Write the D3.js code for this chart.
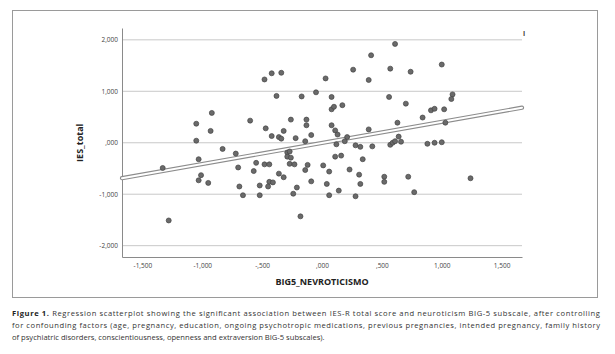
<!DOCTYPE html>
<html>
<head>
<meta charset="utf-8">
<script src="https://cdn.jsdelivr.net/npm/d3@7"></script>
<style>
    body { margin: 0; background: #fff; }
    text { font-family: "Open Sans", "DejaVu Sans", sans-serif; }
</style>
</head>
<body>
<div id="chart-area"></div>
<script>
// BIG5_NEVROTICISMO (x) and IES_total (y)
const neuroticism = [
    -1.05, -0.92, -0.93, -0.60, -1.05, -0.83, -1.33, -1.03, -1.01, -1.03,
    -0.95, -0.72, -0.70, -0.69, -0.66, -0.57, -0.55, -0.52, -0.52, -1.28,
    -0.48, -0.42, -0.34, -0.38, -0.17, -0.05, 0.03, 0.08, 0.08, 0.10,
    0.17, 0.26, 0.39, 0.41, 0.61, 0.57, 0.56, 0.74, 1.00, 0.70,
    0.84, 0.91, 0.94, 1.02, 1.03, -0.26, -0.47, -0.42, -0.36, -0.34,
    -0.32, -0.22, -0.13, -0.13, -0.14, -0.09, 0.08, 0.11, 0.13, 0.21,
    0.19, 0.12, 0.28, 0.32, 0.42, 0.39, 0.63, 0.57, 0.59, 0.61,
    0.64, 0.66, 0.88, 0.94, 1.00, 1.09, 1.08, -0.29, -0.27, -0.29,
    -0.26, -0.48, -0.44, -0.27, -0.23, -0.12, -0.14, 0.01, 0.06, 0.11,
    0.16, 0.23, 0.34, 0.31, 0.32, -0.36, -0.32, -0.44, -0.41, -0.45,
    -0.21, -0.09, -0.24, 0.04, 0.14, 0.06, 0.28, 0.52, 0.52, 0.72,
    0.77, -0.18, 1.24
];
const iesTotal = [
    0.37, 0.58, 0.23, 0.43, 0.04, -0.12, -0.49, -0.32, -0.63, -0.73,
    -0.78, -0.21, -0.48, -0.85, -1.02, -0.55, -0.39, -0.83, -1.02, -1.51,
    1.23, 1.35, 1.36, 0.91, 0.90, 0.98, 1.25, 0.89, 0.65, 0.70,
    0.73, 1.42, 1.22, 1.70, 1.92, 1.44, 0.89, 1.38, 1.52, 0.76,
    0.49, 0.63, 0.66, 0.65, 0.39, 0.45, 0.28, 0.13, 0.11, 0.08,
    0.23, 0.09, 0.45, 0.34, 0.03, 0.15, 0.34, 0.24, 0.16, 0.11,
    0.03, -0.03, -0.05, -0.08, -0.07, 0.26, 0.39, -0.04, 0.00, 0.03,
    0.12, 0.02, -0.02, 0.00, 0.01, 0.94, 0.85, -0.19, -0.17, -0.27,
    -0.29, -0.42, -0.42, -0.41, -0.42, -0.43, -0.53, -0.44, -0.56, -0.27,
    -0.25, -0.52, -0.32, -0.62, -0.80, -0.60, -0.67, -0.76, -0.77, -0.85,
    -0.87, -0.75, -0.99, -0.80, -0.93, -1.02, -1.04, -0.66, -0.76, -0.66,
    -0.96, -1.43, -0.69
];
// linear fit line
const fitIntercept = -0.003;
const fitSlope = 0.41;

const xTicks = [-1.5, -1.0, -0.5, 0, 0.5, 1.0, 1.5];
const xTickLabels = ["-1,500", "-1,000", "-,500", ",000", ",500", "1,000", "1,500"];
const yTicks = [-2, -1, 0, 1, 2];
const yTickLabels = ["-2,000", "-1,000", ",000", "1,000", "2,000"];

const captionLines = [
    "Regression scatterplot showing the significant association between IES-R total score and neuroticism BIG-5 subscale, after controlling",
    "for confounding factors (age, pregnancy, education, ongoing psychotropic medications, previous pregnancies, intended pregnancy, family history",
    "of psychiatric disorders, conscientiousness, openness and extraversion BIG-5 subscales)."
];

const W = 615;
const H = 354;
const margin = { top: 28, right: 93, bottom: 97, left: 122 };
const width = W - margin.left - margin.right;
const height = H - margin.top - margin.bottom;

const svg = d3.select("#chart-area")
    .append("svg")
    .attr("width", W)
    .attr("height", H);

// outer frame
svg.append("rect")
    .attr("x", 12.5)
    .attr("y", 10.5)
    .attr("width", 585)
    .attr("height", 287)
    .attr("fill", "none")
    .attr("stroke", "#9a9a9a")
    .attr("stroke-width", 1);

const g = svg.append("g")
    .attr("transform", "translate(" + margin.left + ", " + margin.top + ")");

const x = d3.scaleLinear().domain([-1.67, 1.67]).range([0, width]);
const y = d3.scaleLinear().domain([-2.22, 2.23]).range([height, 0]);

// gridlines
g.append("g")
    .selectAll("line")
    .data(yTicks)
    .enter()
    .append("line")
    .attr("x1", 0)
    .attr("x2", width)
    .attr("y1", (d) => y(d))
    .attr("y2", (d) => y(d))
    .attr("stroke", "#c8c8c8")
    .attr("stroke-width", 1);

const leftAxis = d3.axisLeft(y)
    .tickValues(yTicks)
    .tickSize(0)
    .tickPadding(4)
    .tickFormat((d, i) => yTickLabels[i]);
g.append("g").attr("class", "left axis").call(leftAxis);

const bottomAxis = d3.axisBottom(x)
    .tickValues(xTicks)
    .tickSize(0)
    .tickPadding(6)
    .tickFormat((d, i) => xTickLabels[i]);
g.append("g")
    .attr("class", "bottom axis")
    .attr("transform", "translate(0, " + height + ")")
    .call(bottomAxis);

g.selectAll(".axis path").attr("stroke", "#8a8a8a");
g.selectAll(".axis text")
    .attr("font-size", "6.5px")
    .attr("fill", "#444");

// fit line: grey outline with white core
const xEnds = x.domain();
const fit = (v) => fitIntercept + fitSlope * v;
[["#8c8c8c", 4.2], ["#ffffff", 2]].forEach((s) => {
    g.append("line")
        .attr("x1", x(xEnds[0]))
        .attr("y1", y(fit(xEnds[0])))
        .attr("x2", x(xEnds[1]))
        .attr("y2", y(fit(xEnds[1])))
        .attr("stroke", s[0])
        .attr("stroke-width", s[1])
        .attr("stroke-linecap", "round");
});

g.selectAll("circle")
    .data(neuroticism)
    .enter()
    .append("circle")
    .attr("cx", (d) => x(d))
    .attr("cy", (d, i) => y(iesTotal[i]))
    .attr("r", 2.5)
    .attr("fill", "#6a6a6a")
    .attr("stroke", "#444")
    .attr("stroke-width", 0.7);

// small clipped fit label mark
g.append("text")
    .attr("x", width + 1)
    .attr("y", 8)
    .attr("font-size", "6.5px")
    .attr("font-weight", "bold")
    .attr("fill", "#333")
    .text("I");

g.append("text")
    .attr("x", -(y(0) ))
    .attr("y", -39)
    .attr("font-size", "9px")
    .attr("font-weight", "bold")
    .attr("text-anchor", "middle")
    .attr("transform", "rotate(-90)")
    .attr("fill", "#222")
    .text("IES_total");

g.append("text")
    .attr("x", x(0))
    .attr("y", height + 28)
    .attr("font-size", "9px")
    .attr("font-weight", "bold")
    .attr("text-anchor", "middle")
    .attr("fill", "#222")
    .text("BIG5_NEVROTICISMO");

// caption
const cap = svg.append("g").attr("font-size", "7.6px").attr("fill", "#333");
captionLines.forEach((line, i) => {
    const t = cap.append("text")
        .attr("x", 12)
        .attr("y", 316 + i * 12);
    if (i < 2) {
        t.attr("textLength", 588).attr("lengthAdjust", "spacing");
    }
    if (i === 0) {
        t.append("tspan").attr("font-weight", "bold").attr("fill", "#222").text("Figure 1. ");
    }
    t.append("tspan").text(line);
});
</script>
</body>
</html>
